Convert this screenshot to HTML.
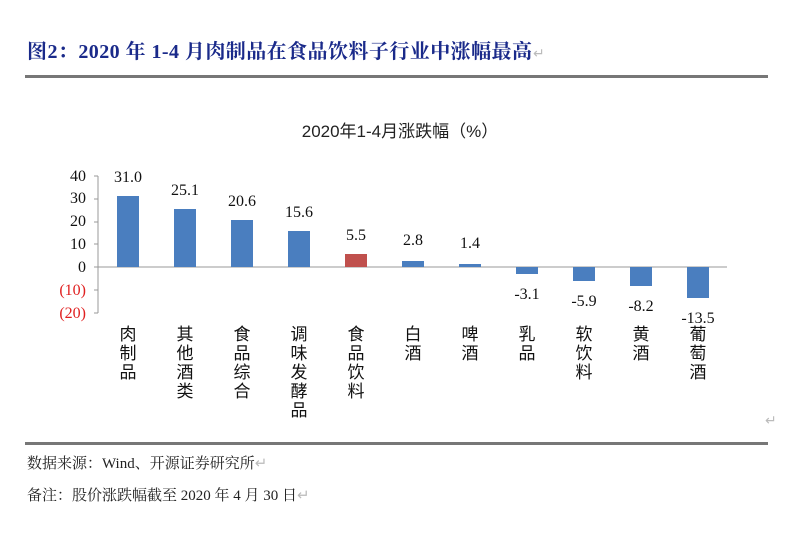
<!DOCTYPE html>
<html><head><meta charset="utf-8"><style>
body{margin:0;background:#fff;width:800px;height:528px;overflow:hidden}
</style></head><body>
<svg width="800" height="528" xmlns="http://www.w3.org/2000/svg" font-family="'Liberation Serif','Noto Serif CJK SC',serif">
<text x="27" y="58" font-size="20" font-weight="bold" fill="#1a2a8a" textLength="505">图2：2020 年 1-4 月肉制品在食品饮料子行业中涨幅最高</text>
<text x="533" y="58" fill="#bbb" font-size="14">↵</text>
<rect x="25" y="75" width="743" height="3" fill="#777"/>
<text x="400" y="137" font-size="17" text-anchor="middle" font-family="'Liberation Sans','Noto Sans CJK SC',sans-serif" fill="#222">2020年1-4月涨跌幅（%）</text>
<g font-size="16" text-anchor="end" fill="#111">
<text x="86" y="181">40</text><text x="86" y="203">30</text><text x="86" y="226">20</text><text x="86" y="249">10</text><text x="86" y="272">0</text>
<text x="86" y="295" fill="#e02020">(10)</text><text x="86" y="318" fill="#e02020">(20)</text>
</g>
<line x1="98" y1="176" x2="98" y2="313" stroke="#999"/>
<g stroke="#999"><line x1="94" y1="176" x2="98" y2="176"/><line x1="94" y1="199" x2="98" y2="199"/><line x1="94" y1="222" x2="98" y2="222"/><line x1="94" y1="244" x2="98" y2="244"/><line x1="94" y1="290" x2="98" y2="290"/><line x1="94" y1="313" x2="98" y2="313"/></g>
<line x1="94" y1="267" x2="727" y2="267" stroke="#999"/>
<text x="765" y="425" font-size="14" fill="#bbb">↵</text>
<rect x="25" y="442" width="743" height="3" fill="#777"/>
<text x="27" y="468" font-size="15" fill="#222">数据来源：Wind、开源证券研究所<tspan fill="#bbb">↵</tspan></text>
<text x="27" y="500" font-size="15" fill="#222">备注：股价涨跌幅截至 2020 年 4 月 30 日<tspan fill="#bbb">↵</tspan></text>
<g font-size="16" fill="#111" text-anchor="middle">
<rect x="117" y="196" width="22" height="71" fill="#4a7ebf"/><text x="128" y="182">31.0</text>
<rect x="174" y="209" width="22" height="58" fill="#4a7ebf"/><text x="185" y="195">25.1</text>
<rect x="231" y="220" width="22" height="47" fill="#4a7ebf"/><text x="242" y="206">20.6</text>
<rect x="288" y="231" width="22" height="36" fill="#4a7ebf"/><text x="299" y="217">15.6</text>
<rect x="345" y="254" width="22" height="13" fill="#c0504d"/><text x="356" y="240">5.5</text>
<rect x="402" y="261" width="22" height="6" fill="#4a7ebf"/><text x="413" y="245">2.8</text>
<rect x="459" y="264" width="22" height="3" fill="#4a7ebf"/><text x="470" y="248">1.4</text>
<rect x="516" y="267" width="22" height="7" fill="#4a7ebf"/><text x="527" y="299">-3.1</text>
<rect x="573" y="267" width="22" height="14" fill="#4a7ebf"/><text x="584" y="306">-5.9</text>
<rect x="630" y="267" width="22" height="19" fill="#4a7ebf"/><text x="641" y="311">-8.2</text>
<rect x="687" y="267" width="22" height="31" fill="#4a7ebf"/><text x="698" y="323">-13.5</text>
</g>
<g font-size="17" fill="#111" text-anchor="middle" font-family="'Liberation Sans','Noto Sans CJK SC',sans-serif">
<text x="128" y="340">肉</text><text x="128" y="359">制</text><text x="128" y="378">品</text>
<text x="185" y="340">其</text><text x="185" y="359">他</text><text x="185" y="378">酒</text><text x="185" y="397">类</text>
<text x="242" y="340">食</text><text x="242" y="359">品</text><text x="242" y="378">综</text><text x="242" y="397">合</text>
<text x="299" y="340">调</text><text x="299" y="359">味</text><text x="299" y="378">发</text><text x="299" y="397">酵</text><text x="299" y="416">品</text>
<text x="356" y="340">食</text><text x="356" y="359">品</text><text x="356" y="378">饮</text><text x="356" y="397">料</text>
<text x="413" y="340">白</text><text x="413" y="359">酒</text>
<text x="470" y="340">啤</text><text x="470" y="359">酒</text>
<text x="527" y="340">乳</text><text x="527" y="359">品</text>
<text x="584" y="340">软</text><text x="584" y="359">饮</text><text x="584" y="378">料</text>
<text x="641" y="340">黄</text><text x="641" y="359">酒</text>
<text x="698" y="340">葡</text><text x="698" y="359">萄</text><text x="698" y="378">酒</text>
</g>
</svg>
</body></html>
